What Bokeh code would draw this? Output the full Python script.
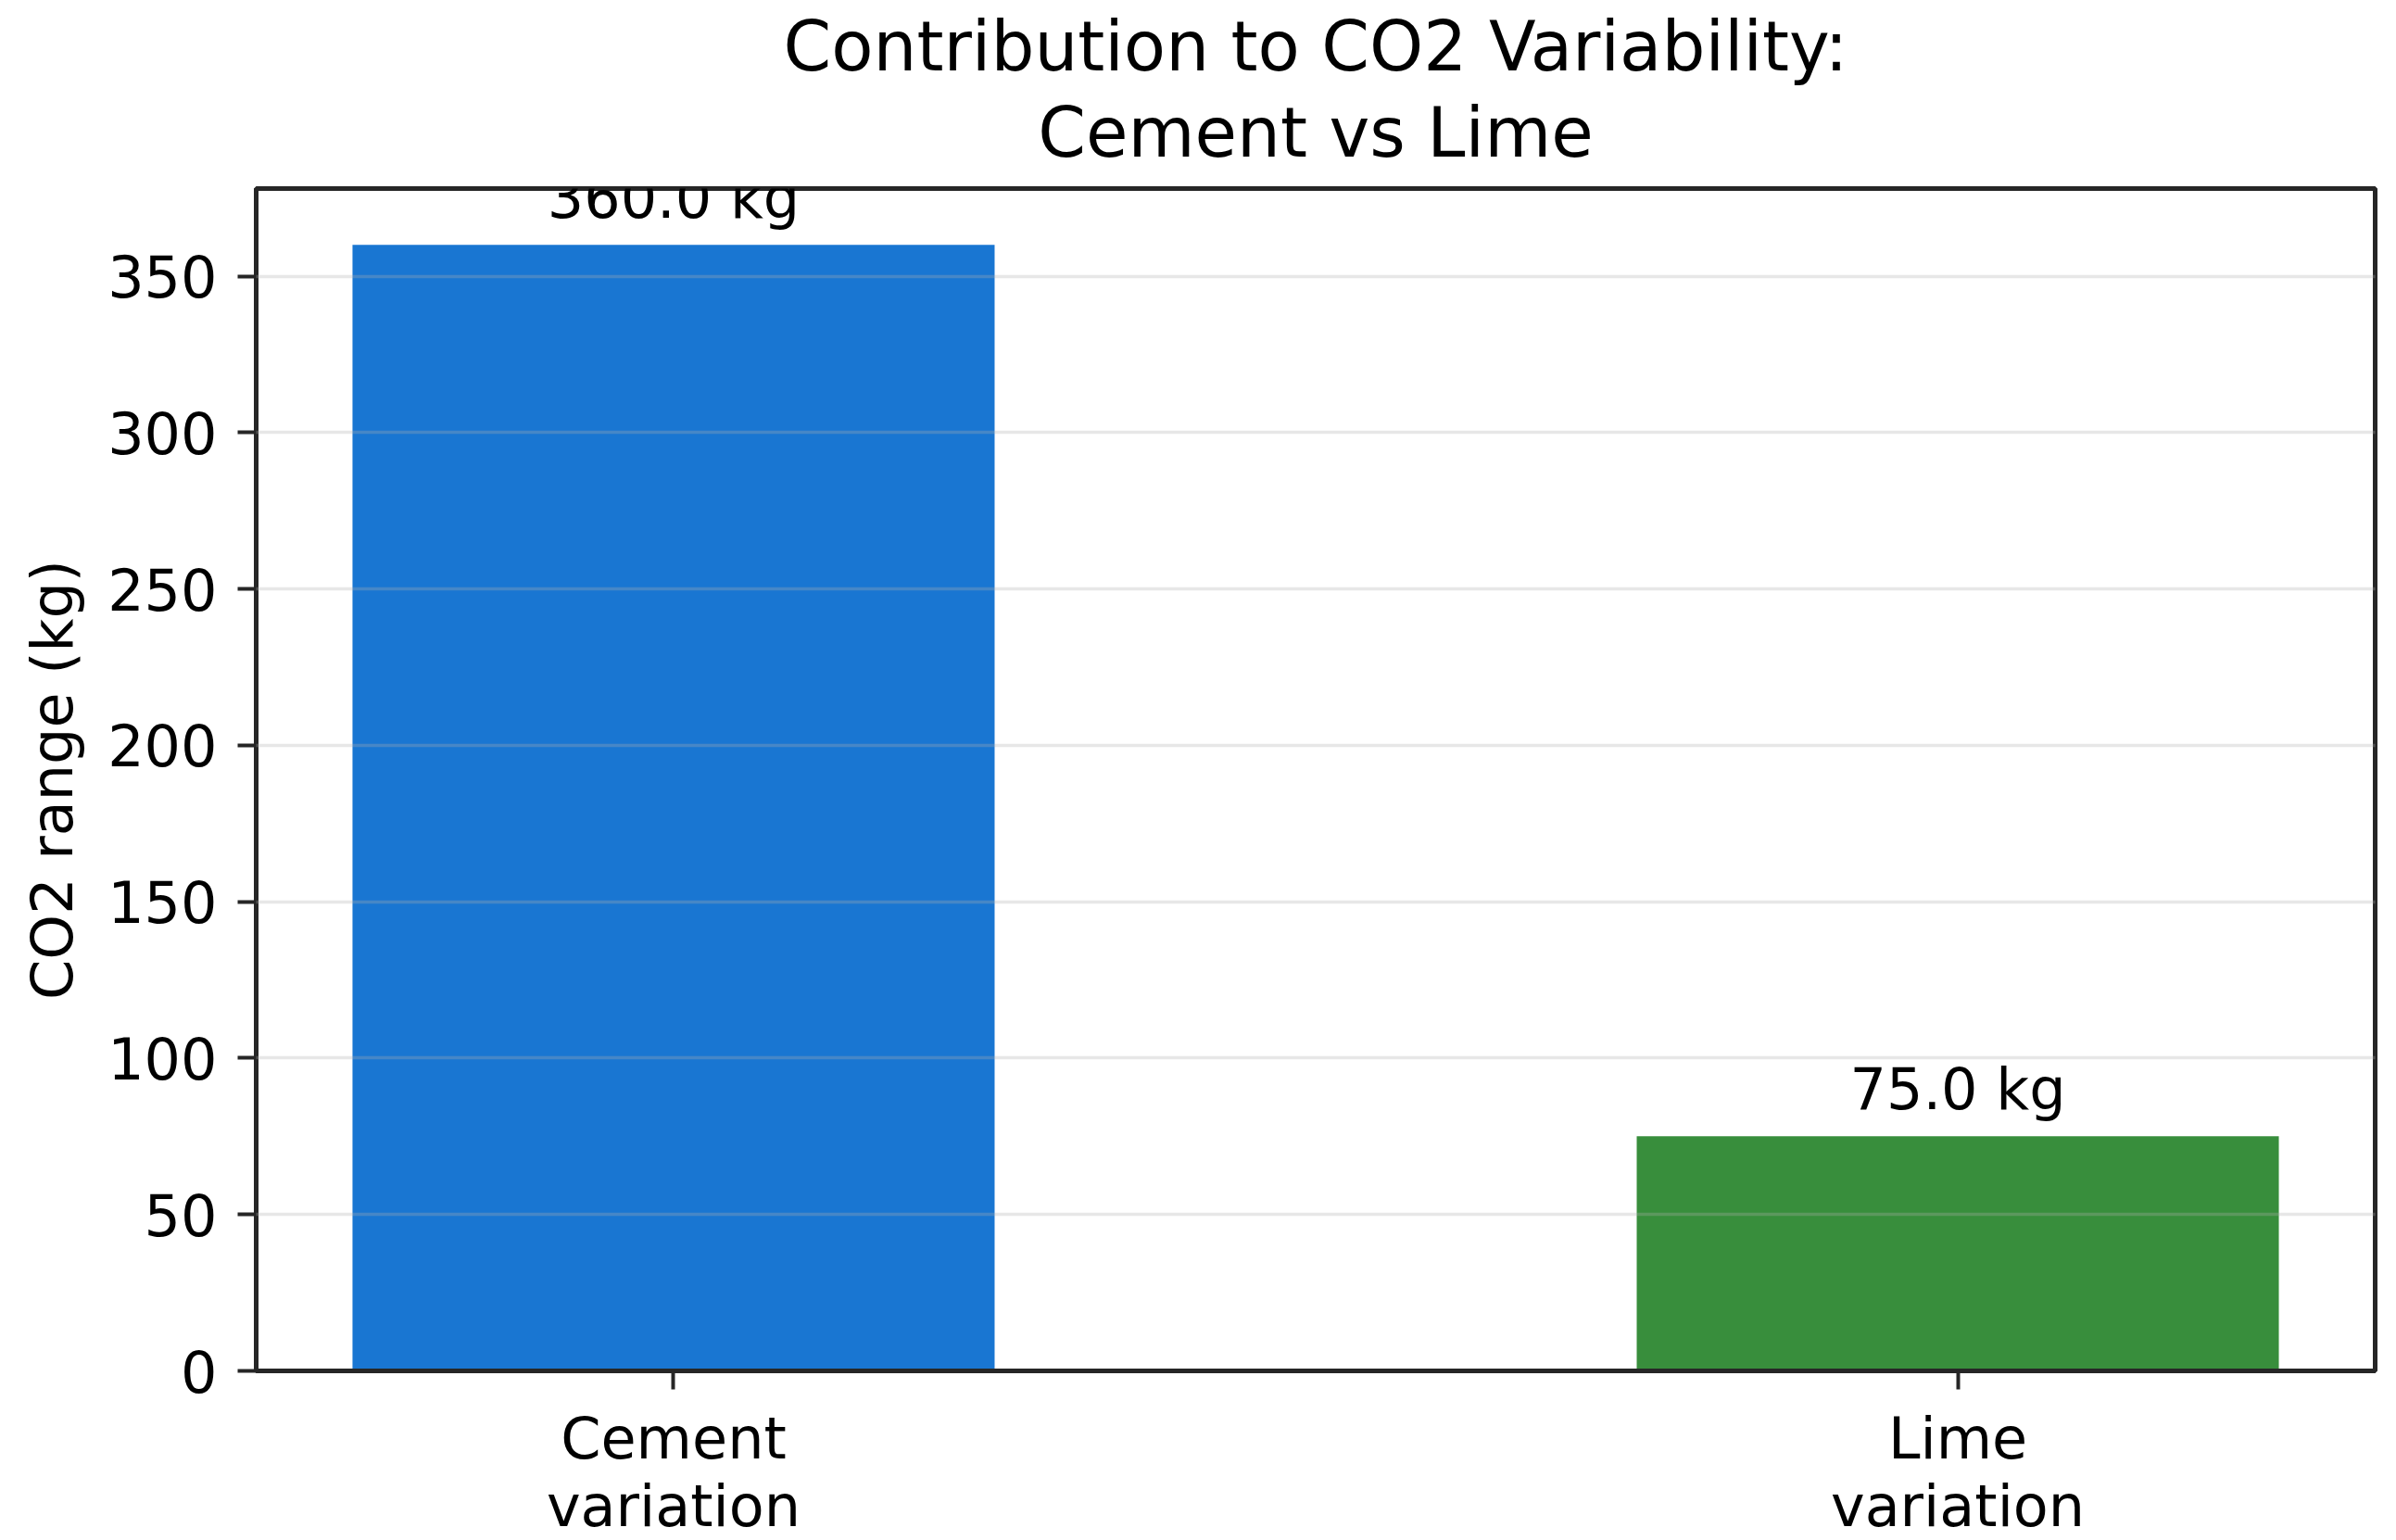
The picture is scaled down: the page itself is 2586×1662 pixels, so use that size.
from bokeh.plotting import figure
from bokeh.models import Range1d, FixedTicker, ColumnDataSource, LabelSet, Title
from bokeh.core.properties import value
from bokeh.embed import file_html
from bokeh.resources import INLINE

# ---- data ----
categories = ["Cement\nvariation", "Lime\nvariation"]
co2_range_kg = [360.0, 75.0]
bar_labels = [f"{v:.1f} kg" for v in co2_range_kg]
y_ticks = [0, 50, 100, 150, 200, 250, 300, 350]
title_lines = ["Contribution to CO2 Variability:", "Cement vs Lime"]
y_label = "CO2 range (kg)"

# ---- styles ----
bar_colors = ["#1976D2", "#388E3C"]
FONT = "DejaVu Sans"
DARK = "#262626"

x_pos = list(range(len(categories)))
src = ColumnDataSource(dict(x=x_pos, top=co2_range_kg, color=bar_colors, label=bar_labels))

p = figure(
    frame_width=2287, frame_height=1276,
    min_border_left=276, min_border_right=7, min_border_top=203, min_border_bottom=167,
    x_range=Range1d(-0.325, 1.325), y_range=Range1d(0, 378),
    output_backend="svg", toolbar_location=None,
    background_fill_color="white", border_fill_color="white",
)
p.title_location = None

p.vbar(x="x", top="top", bottom=0, width=0.5, color="color", line_color=None, source=src)

labels = LabelSet(x="x", y="top", text="label", source=src, text_align="center",
                  text_baseline="alphabetic", y_offset=29, text_font=value(FONT),
                  text_font_size="62px", text_color="black")
p.add_layout(labels)

# title (two centred lines; first added sits closest to the frame)
for txt, so in ((title_lines[1], 36), (title_lines[0], -27)):
    p.add_layout(Title(text=txt, align="center", text_font=FONT, text_font_size="74px",
                       text_font_style="normal", text_color="black", standoff=so,
                       text_line_height=1.0), "above")

# axes
p.xaxis.ticker = FixedTicker(ticks=x_pos)
p.xaxis.major_label_overrides = {x: c for x, c in zip(x_pos, categories)}
p.yaxis.ticker = FixedTicker(ticks=y_ticks)
p.yaxis.axis_label = y_label

for ax in (p.xaxis, p.yaxis):
    ax.axis_line_color = DARK
    ax.axis_line_width = 5
    ax.major_tick_line_color = DARK
    ax.major_tick_line_width = 4
    ax.major_tick_out = 20
    ax.major_tick_in = 0
    ax.minor_tick_line_color = None
    ax.major_label_text_font = FONT
    ax.major_label_text_color = "black"
    ax.axis_label_text_font = FONT
    ax.axis_label_text_font_style = "normal"
    ax.axis_label_text_color = "black"

p.xaxis.major_label_text_font_size = "62px"
p.xaxis.major_label_text_line_height = 1.0
p.xaxis.major_label_standoff = 16
p.yaxis.major_label_text_font_size = "62px"
p.yaxis.major_label_standoff = 22
p.yaxis.axis_label_text_font_size = "62px"
p.yaxis.axis_label_standoff = 20

# grid
p.xgrid.grid_line_color = None
p.ygrid.grid_line_color = "#b0b0b0"
p.ygrid.grid_line_alpha = 0.3
p.ygrid.grid_line_width = 3.3
p.ygrid.level = "annotation"

p.outline_line_color = DARK
p.outline_line_width = 5
p.outline_line_alpha = 1.0

open("out.html", "w").write(file_html(p, INLINE))
